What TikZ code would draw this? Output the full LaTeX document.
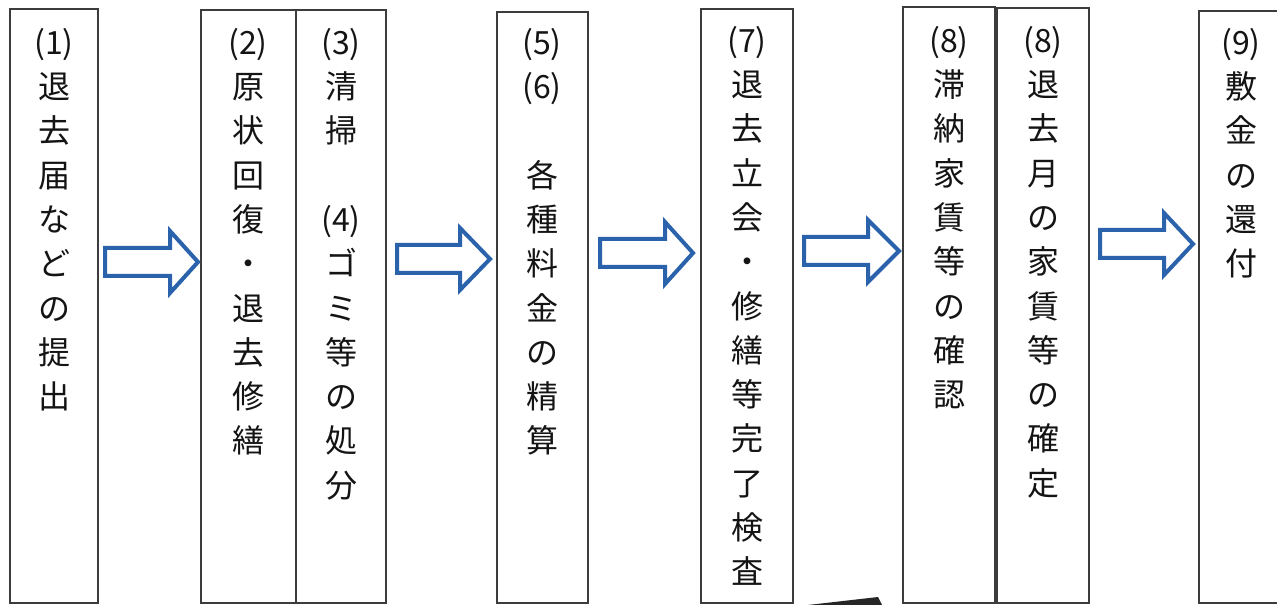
\documentclass[tikz,border=0pt]{standalone}
\usepackage{fontspec}
\setmainfont{Noto Sans CJK JP}
\usetikzlibrary{fit}
\definecolor{arrowblue}{HTML}{2A62AC}
\definecolor{boxgray}{HTML}{3C3C3C}
\tikzset{
  stepbox/.style={draw=boxgray, line width=1.2pt, inner sep=0pt},
  lbl/.style={anchor=north, align=center, inner sep=0pt, text=black!92,
              font=\fontsize{24}{33.2}\selectfont},
  barrow/.style={draw=arrowblue, line width=3pt, fill=white, line join=miter},
}
\newcommand\blockarr[4]{% left, head base, tip, centre y
  \draw[barrow] (#1,#4-14) -- (#2,#4-14) -- (#2,#4-31) -- (#3,#4)
     -- (#2,#4+31) -- (#2,#4+14) -- (#1,#4+14) -- cycle;}
\begin{document}
\begin{tikzpicture}[x=0.75pt,y=-0.75pt]
\useasboundingbox (0,0) rectangle (1277,605);
\clip (0,0) rectangle (1277,605);
\fill[white] (0,0) rectangle (1277,605);
% boxes
\node[stepbox, fit={(10,9) (98,603)}] (b1) {};
\node[stepbox, fit={(201,10) (296,603)}] (b2) {};
\node[stepbox, fit={(296,10) (386,603)}] (b3) {};
\node[stepbox, fit={(497,12) (588,603)}] (b5) {};
\node[stepbox, fit={(701,9) (793,603)}] (b7) {};
\node[stepbox, fit={(903,7) (995,603)}] (b8a) {};
\node[stepbox, fit={(997,8) (1089,603)}] (b8b) {};
\node[stepbox, fit={(1199,11) (1300,603)}] (b9) {};
% texts
\node[lbl] (t1) at (54,28) {(1)\\退\\去\\届\\な\\ど\\の\\提\\出};
\node[lbl] (t2) at (248,28) {(2)\\原\\状\\回\\復\\・\\退\\去\\修\\繕};
\node[lbl] (t3) at (341,28) {(3)\\清\\掃\\\mbox{}\\(4)\\ゴ\\ミ\\等\\の\\処\\分};
\node[lbl] (t5) at (542,28) {(5)\\(6)\\\mbox{}\\各\\種\\料\\金\\の\\精\\算};
\node[lbl] (t7) at (747,26) {(7)\\退\\去\\立\\会\\・\\修\\繕\\等\\完\\了\\検\\査};
\node[lbl] (t8a) at (949,26) {(8)\\滞\\納\\家\\賃\\等\\の\\確\\認};
\node[lbl] (t8b) at (1043,26) {(8)\\退\\去\\月\\の\\家\\賃\\等\\の\\確\\定};
\node[lbl] (t9) at (1241,28) {(9)\\敷\\金\\の\\還\\付};
% block arrows
\blockarr{105}{170}{198}{262}
\blockarr{397}{460}{490}{259}
\blockarr{600}{665}{693}{253}
\blockarr{804}{868}{899}{251}
\blockarr{1100}{1164}{1193}{244}
% dark fragment at the bottom edge
\fill[black!85] (808,605) -- (878,597) -- (882,605) -- cycle;
\end{tikzpicture}
\end{document}
